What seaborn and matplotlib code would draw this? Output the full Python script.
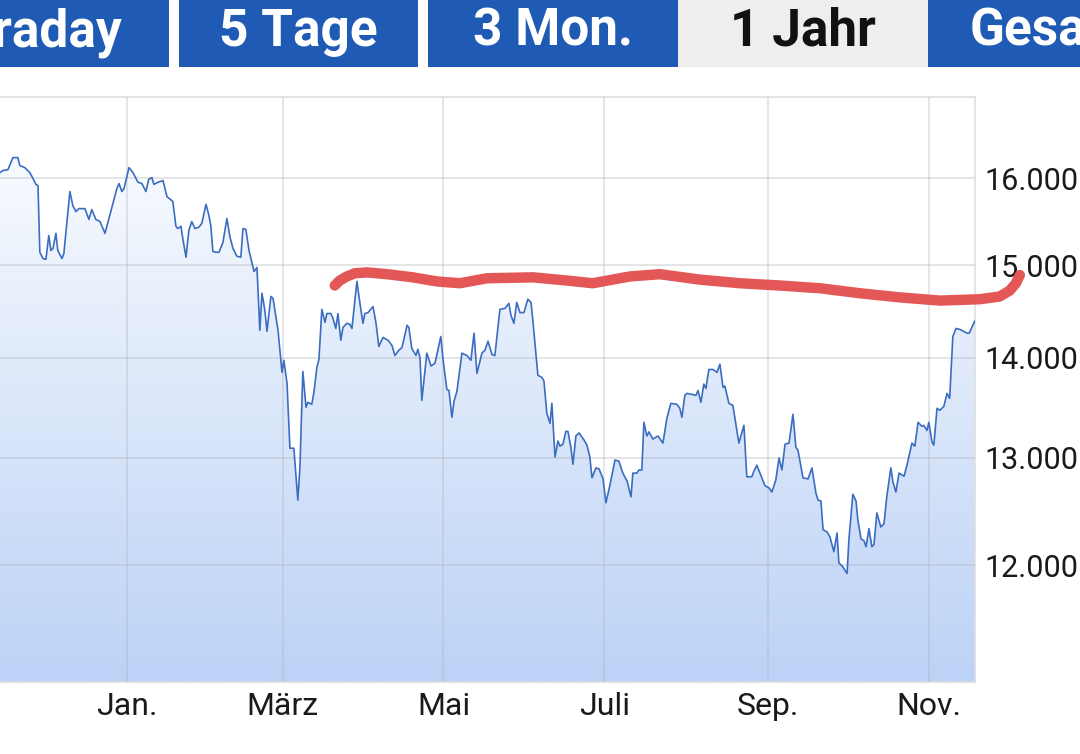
import numpy as np
import pandas as pd
import matplotlib
matplotlib.use("Agg")
import matplotlib.pyplot as plt
from matplotlib.colors import LinearSegmentedColormap
from matplotlib.patches import Rectangle
from matplotlib.ticker import NullLocator
import seaborn as sns

days = [
    -48.1, -47.0, -45.1, -43.2, -41.3, -40.6, -38.7, -36.8, -35.6, -34.5,
    -33.7, -33.0, -31.8, -30.7, -29.6, -28.8, -28.0, -26.9, -26.2, -24.6,
    -23.9, -21.6, -20.5, -19.3, -18.2, -15.9, -14.4, -13.3, -11.8, -10.2,
    -8.3, -7.2, -5.3, -3.8, -3.0, -1.9, -1.1, 0.8, 2.3, 4.2,
    5.7, 7.2, 8.3, 9.5, 10.2, 11.8, 13.7, 15.2, 17.4, 18.6,
    19.3, 20.5, 21.2, 22.4, 23.5, 24.6, 25.8, 27.3, 28.4, 30.0,
    31.1, 31.8, 32.6, 33.7, 34.9, 36.4, 37.9, 39.1, 40.2, 41.7,
    43.2, 44.0, 45.1, 46.3, 48.2, 49.3, 50.4, 51.2, 52.3, 53.1,
    54.6, 55.4, 57.3, 58.8, 59.5, 60.7, 61.8, 63.3, 64.8, 65.6,
    66.7, 67.9, 68.6, 70.1, 70.9, 72.0, 72.8, 73.9, 75.1, 75.8,
    77.3, 78.1, 79.2, 80.0, 81.1, 81.9, 83.4, 84.5, 85.3, 87.2,
    88.3, 89.5, 90.2, 91.4, 93.3, 94.4, 95.5, 97.1, 99.0, 100.5,
    101.6, 103.1, 104.3, 106.2, 106.9, 108.0, 109.6, 110.3, 111.1, 111.8,
    113.7, 115.3, 116.8, 119.0, 119.8, 121.3, 122.1, 123.2, 124.0, 125.1,
    127.0, 128.9, 130.4, 131.6, 132.7, 134.6, 135.7, 136.9, 138.4, 139.5,
    141.4, 143.3, 144.8, 145.6, 146.7, 147.8, 149.0, 150.5, 152.0, 153.2,
    153.9, 155.8, 157.3, 158.1, 159.2, 160.4, 161.1, 162.3, 163.4, 164.2,
    165.3, 166.4, 167.2, 168.3, 169.1, 170.2, 171.4, 173.3, 174.4, 175.5,
    176.3, 177.8, 179.0, 180.5, 181.6, 183.1, 185.0, 186.5, 188.0, 189.6,
    191.1, 191.8, 193.3, 194.1, 195.2, 196.0, 197.1, 197.9, 199.4, 201.3,
    203.2, 204.7, 206.2, 208.5, 209.6, 210.4, 211.5, 212.3, 214.2, 215.7,
    216.5, 217.6, 218.7, 219.5, 220.6, 222.2, 223.7, 224.8, 226.0, 226.7,
    228.2, 229.7, 230.9, 232.0, 233.9, 235.0, 236.9, 237.7, 238.8, 240.0,
    241.9, 243.4, 244.5, 246.0, 247.2, 248.3, 249.5, 251.0, 252.5, 253.6,
    254.4, 256.3, 258.2, 259.7, 261.2, 262.0, 263.1, 263.9, 265.4, 266.5,
    268.0, 269.2, 269.9, 271.4, 273.0, 273.7, 275.2, 276.4, 277.1, 278.3,
    279.4, 280.2, 281.3, 282.4, 283.2, 284.3, 285.8, 287.0, 288.1, 289.6,
    290.4, 291.5, 292.7, 294.6, 295.7, 297.6, 298.7, 299.9, 301.4, 302.1,
    303.3, 304.0, 305.2, 305.9, 307.1, 308.2, 309.7, 310.9, 311.9, 313.1,
    314.3, 315.8, 318.5, 319.3, 321.5,
]
kurs = [
    16070, 16095, 16105, 16250, 16250, 16155, 16130, 16070, 16000, 15930,
    15915, 15145, 15075, 15065, 15335, 15165, 15190, 15360, 15165, 15075,
    15130, 15845, 15680, 15610, 15645, 15645, 15520, 15635, 15520, 15495,
    15360, 15485, 15705, 15880, 15940, 15845, 15880, 16130, 16070, 15955,
    15940, 15845, 15990, 16010, 15930, 15955, 15975, 15785, 15730, 15440,
    15415, 15440, 15300, 15090, 15395, 15495, 15415, 15430, 15475, 15695,
    15565, 15450, 15155, 15145, 15145, 15255, 15530, 15315, 15190, 15100,
    15090, 15415, 15405, 15165, 14930, 14975, 14290, 14690, 14505, 14280,
    14655, 14635, 14290, 13850, 13975, 13740, 13090, 13090, 12595, 12910,
    13860, 13495, 13545, 13525, 13645, 13900, 13985, 14515, 14375, 14470,
    14470, 14420, 14310, 14470, 14185, 14320, 14365, 14355, 14310, 14820,
    14590, 14365, 14470, 14480, 14545, 14375, 14120, 14215, 14185, 14130,
    14025, 14080, 14110, 14345, 14320, 14100, 14025, 14090, 14005, 13565,
    14050, 13915, 13945, 14225, 13995, 13675, 13665, 13395, 13555, 13655,
    14050, 14025, 13975, 14260, 13840, 14050, 14080, 14175, 14035, 14025,
    14515, 14525, 14580, 14450, 14365, 14590, 14480, 14480, 14625, 14590,
    14395, 13820, 13800, 13760, 13435, 13335, 13535, 13005, 13160, 13110,
    13130, 13255, 13255, 13100, 12935, 13210, 13240, 13170, 13120, 13005,
    12805, 12900, 12890, 12795, 12570, 12735, 12975, 12965, 12850, 12775,
    12625, 12850, 12850, 12880, 12880, 13345, 13210, 13250, 13180, 13210,
    13140, 13385, 13535, 13525, 13485, 13395, 13615, 13635, 13625, 13615,
    13665, 13545, 13730, 13685, 13880, 13880, 13850, 13935, 13695, 13710,
    13535, 13515, 13315, 13140, 13315, 12815, 12815, 12870, 12925, 12850,
    12730, 12710, 12670, 12785, 12995, 12880, 13130, 13140, 13425, 13100,
    13070, 12805, 12795, 12900, 12660, 12595, 12585, 12320, 12300, 12255,
    12120, 12290, 12020, 11985, 11925, 12230, 12650, 12585, 12410, 12235,
    12220, 12165, 12330, 12165, 12185, 12475, 12345, 12375, 12635, 12900,
    12765, 12670, 12850, 12820, 12925, 13140, 13110, 13345, 13305, 13315,
    13265, 13345, 13150, 13120, 13485, 13465, 13505, 13635, 13585, 14225,
    14310, 14300, 14260, 14260, 14395,
]

# the hand-drawn red stroke across the chart
mark_days = [78.8, 80.7, 83.4, 86.4, 91.0, 98.6, 108.4, 117.5, 126.2, 136.5,
             153.9, 166.8, 176.6, 190.7, 202.0, 217.2, 232.4, 247.5, 262.7,
             277.9, 293.0, 308.2, 323.3, 330.9, 334.7, 337.0, 338.5]
mark_values = [14775, 14830, 14875, 14910, 14920, 14900, 14865, 14820, 14800,
               14855, 14865, 14830, 14800, 14875, 14900, 14840, 14800, 14775,
               14745, 14690, 14645, 14610, 14625, 14655, 14720, 14800, 14890]

month_ticks = ['2022-01-01', '2022-03-01', '2022-05-01', '2022-07-01',
               '2022-09-01', '2022-11-01']
month_labels = ['Jan.', 'März', 'Mai', 'Juli', 'Sep.', 'Nov.']
y_ticks = [12000, 13000, 14000, 15000, 16000]
y_labels = ['12.000', '13.000', '14.000', '15.000', '16.000']

tabs = ['Intraday', '5 Tage', '3 Mon.', '1 Jahr', 'Gesamt']
active_tab = '1 Jahr'

sns.set_style('white')
plt.rcParams['font.family'] = ['Roboto', 'DejaVu Sans']

start = pd.Timestamp('2022-01-01')
df = pd.DataFrame({'datum': start + pd.to_timedelta(days, unit='D'), 'kurs': kurs})
mark = pd.DataFrame({'datum': start + pd.to_timedelta(mark_days, unit='D'),
                     'kurs': mark_values})

W, H = 1080, 754
fig = plt.figure(figsize=(W / 100, H / 100), dpi=100)
ax = fig.add_axes([0, 1 - 682 / H, 975 / W, (682 - 97) / H])
ax.set_yscale('log')

# area under the curve, used as clip path for the gradient
poly = ax.fill_between(df['datum'], df['kurs'], 10000,
                       facecolor='none', edgecolor='none')
xlim = (df['datum'].iloc[0], df['datum'].iloc[-1])
ax.set_xlim(xlim)
ax.set_ylim(11000, 17000)
ax.set_autoscale_on(False)

grad = np.linspace(0, 1, 256).reshape(-1, 1)
cmap = LinearSegmentedColormap.from_list('fill', ['#BCD2F6', '#FFFFFF'])
im = ax.imshow(grad, extent=(0, 1, 0, 1), transform=ax.transAxes,
               origin='lower', cmap=cmap, aspect='auto', zorder=1)
im.set_clip_path(poly.get_paths()[0], poly.get_transform())

sns.lineplot(data=df, x='datum', y='kurs', ax=ax, color='#3B6DC1',
             linewidth=1.2, zorder=3)

ax.plot(mark['datum'], mark['kurs'], color='#E35757', linewidth=7.5,
        solid_capstyle='round', solid_joinstyle='round', clip_on=False, zorder=5)

ax.set_xlim(xlim)
ax.set_ylim(11000, 17000)
ax.set_xlabel('')
ax.set_ylabel('')

ax.set_xticks(pd.to_datetime(month_ticks))
ax.set_xticklabels(month_labels)
ax.set_yticks(y_ticks)
ax.set_yticklabels(y_labels)
ax.yaxis.set_minor_locator(NullLocator())
ax.yaxis.tick_right()
ax.tick_params(axis='y', length=0, pad=7, labelsize=22, labelcolor='#1A1A1A')
ax.tick_params(axis='x', length=0, pad=7, labelsize=23, labelcolor='#1A1A1A')

ax.set_axisbelow(False)
ax.grid(True, color='#B0B4BC', alpha=0.45, linewidth=1.1)
for side in ['top', 'right', 'bottom']:
    ax.spines[side].set_color('#DCDCDC')
    ax.spines[side].set_linewidth(1.1)
ax.spines['left'].set_visible(False)

# tab bar on top (first and last tab run off the screen edge, as in the screenshot)
tab_edges = [(-20, 169), (179, 418), (428, 678), (678, 928), (928, 1100)]
tab_h = 67
for label, (x0, x1) in zip(tabs, tab_edges):
    active = label == active_tab
    fig.add_artist(Rectangle((x0 / W, 1 - tab_h / H), (x1 - x0) / W, tab_h / H,
                             transform=fig.transFigure, linewidth=0,
                             facecolor='#EEEEEE' if active else '#1F5AB4'))
    if label == tabs[0]:
        tx, ha = 122, 'right'
    elif label == tabs[-1]:
        tx, ha = 970, 'left'
    else:
        tx, ha = (x0 + x1) / 2, 'center'
    fig.text(tx / W, 1 - 46 / H, label, ha=ha, va='baseline', fontsize=37,
             fontweight='bold', color='#111111' if active else 'white')

fig.savefig('out.png', dpi=100)
